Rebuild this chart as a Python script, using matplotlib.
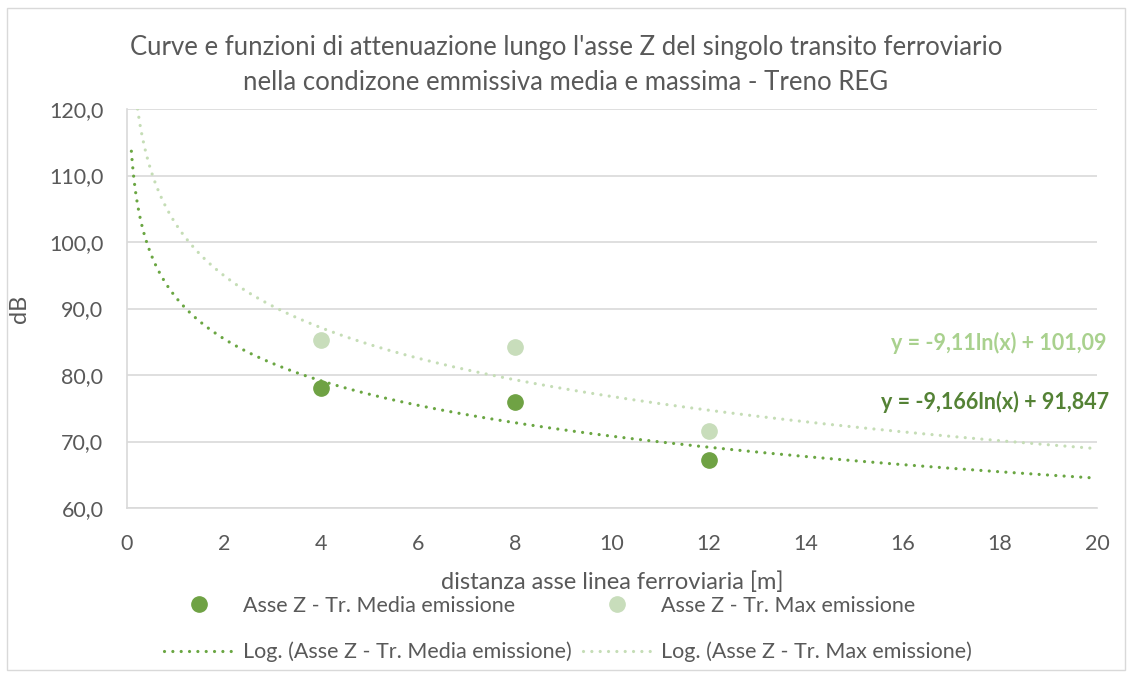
import numpy as np
import matplotlib
matplotlib.use("Agg")
import matplotlib.pyplot as plt
from matplotlib.lines import Line2D
from matplotlib.patches import Rectangle

plt.rcParams['font.family'] = ['Lato', 'DejaVu Sans']

# data
distance = [4, 8, 12]
media = [78.0, 75.9, 67.2]
massima = [85.3, 84.2, 71.6]
eq_media = "y = -9,166ln(x) + 91,847"
eq_max = "y = -9,11ln(x) + 101,09"
xticks = [0, 2, 4, 6, 8, 10, 12, 14, 16, 18, 20]
yticks = [60, 70, 80, 90, 100, 110, 120]

c_media = "#6FA244"
c_max = "#C8DDBB"
c_media_line = "#6AA642"
c_max_line = "#C5DDB6"
c_media_txt = "#548235"
c_max_txt = "#A9D18E"
txt = "#595959"

fig = plt.figure(figsize=(11.32, 6.78), dpi=100)
fig.patch.set_facecolor("white")
fig.add_artist(Rectangle((0.006, 0.012), 0.988, 0.976, transform=fig.transFigure,
                         fill=False, edgecolor="#D9D9D9", linewidth=1.0))
ax = fig.add_axes([0.1122, 0.2507, 0.8569, 0.5885])

# trendlines (log fit)
lx = np.log(distance)
b_m, a_m = np.polyfit(lx, media, 1)
b_x, a_x = np.polyfit(lx, massima, 1)
xs = np.linspace(0.09, 20, 2000)
dot = (0, (0.01, 2.6))
ax.plot(xs, a_m + b_m * np.log(xs), color=c_media_line, lw=2.3, linestyle=dot,
        dash_capstyle='round', zorder=2)
ax.plot(xs, a_x + b_x * np.log(xs), color=c_max_line, lw=2.3, linestyle=dot,
        dash_capstyle='round', zorder=2)

ax.plot(distance, media, 'o', color=c_media, ms=11, zorder=3)
ax.plot(distance, massima, 'o', color=c_max, ms=11, zorder=3)

ax.set_xlim(0, 20)
ax.set_ylim(60, 120)
ax.set_xticks(xticks)
ax.set_yticks(yticks)
ax.set_xticklabels([str(v) for v in xticks])
ax.set_yticklabels([f"{v:.1f}".replace(".", ",") for v in yticks])
ax.tick_params(length=0, labelsize=15.5, colors=txt)
ax.tick_params(axis='y', pad=17)
ax.tick_params(axis='x', pad=19)
ax.grid(axis='y', color="#D9D9D9", lw=1.2)
ax.set_axisbelow(True)
for s in ['top', 'right']:
    ax.spines[s].set_visible(False)
for s in ['left', 'bottom']:
    ax.spines[s].set_color("#D9D9D9")
    ax.spines[s].set_linewidth(1.2)

ax.set_xlabel("distanza asse linea ferroviaria [m]", fontsize=17, color=txt, labelpad=12)
ax.set_ylabel("dB", fontsize=17, color=txt, labelpad=14)

fig.text(0.5, 0.904, "Curve e funzioni di attenuazione lungo l'asse Z del singolo transito ferroviario\n"
         "nella condizone emmissiva media e massima - Treno REG",
         ha='center', va='center', fontsize=18.5, color=txt, linespacing=1.5)

ax.text(20.2, 84.8, eq_max, ha='right', va='center', fontsize=15.5, fontweight='bold',
        color=c_max_txt, transform=ax.transData, clip_on=False)
ax.text(20.25, 75.9, eq_media, ha='right', va='center', fontsize=15.5, fontweight='bold',
        color=c_media_txt, transform=ax.transData, clip_on=False)

handles = [
    Line2D([], [], marker='o', ls='none', color=c_media, ms=11),
    Line2D([], [], color=c_media_line, lw=2.3, linestyle=dot, dash_capstyle='round'),
    Line2D([], [], marker='o', ls='none', color=c_max, ms=11),
    Line2D([], [], color=c_max_line, lw=2.3, linestyle=dot, dash_capstyle='round'),
]
labels = ["Asse Z - Tr. Media emissione", "Log. (Asse Z - Tr. Media emissione)",
          "Asse Z - Tr. Max emissione", "Log. (Asse Z - Tr. Max emissione)"]
leg = fig.legend(handles, labels, ncol=2, loc='center', bbox_to_anchor=(0.502, 0.072),
                 frameon=False, fontsize=15.5, handlelength=3.2, handletextpad=0.45,
                 columnspacing=0.5, labelspacing=1.2, labelcolor=txt)

fig.savefig("out.png", dpi=100)
